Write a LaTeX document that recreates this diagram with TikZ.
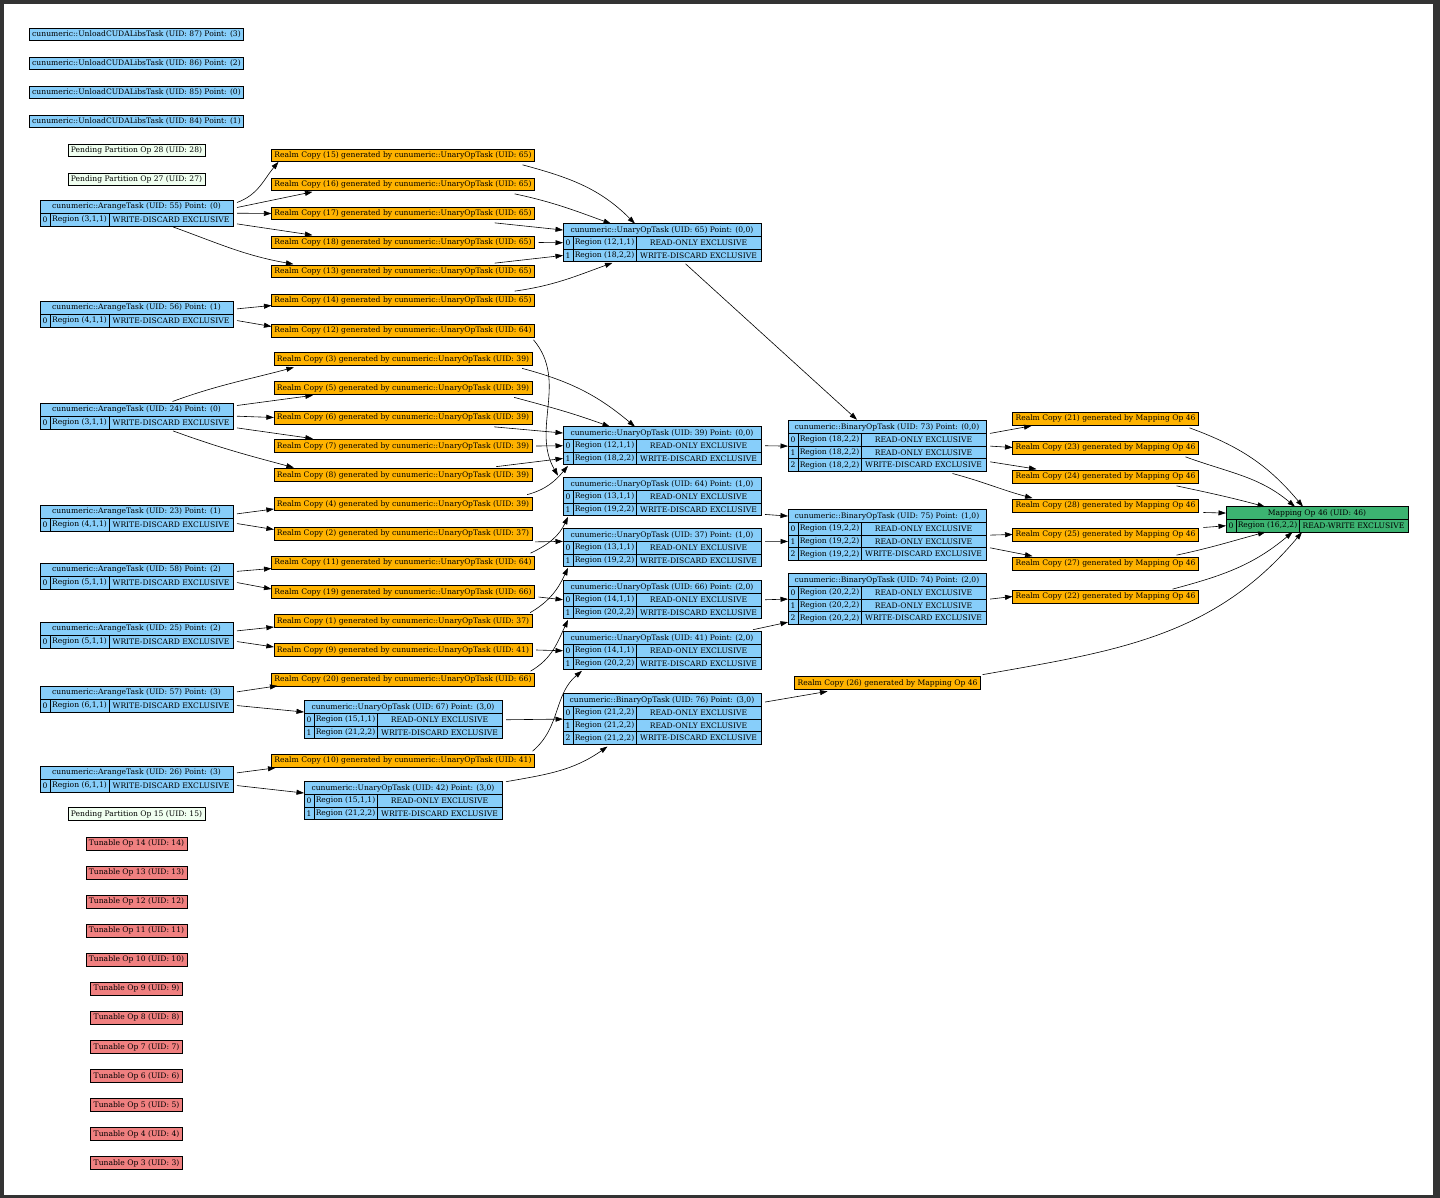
\documentclass[tikz,border=0pt]{standalone}
\usepackage{fontspec}
\setmainfont{DejaVu Serif}
\definecolor{taskblue}{RGB}{135,206,250}
\definecolor{copyorange}{RGB}{255,179,0}
\definecolor{tunered}{RGB}{240,128,128}
\definecolor{mapgreen}{RGB}{60,179,113}
\definecolor{pendfill}{RGB}{240,255,240}
\definecolor{framegray}{RGB}{51,51,51}
\usetikzlibrary{arrows.meta}

\newcommand{\regrow}[8]{%
  \node[#6, minimum width=10pt, anchor=north west] (#1i) at (#2.south west) {#3};
  \node[#6, minimum width=#7, anchor=west] (#1r) at (#1i.east) {#4};
  \node[#6, minimum width=#8, anchor=west] (#1a) at (#1r.east) {#5};}

\begin{document}
\begin{tikzpicture}[x=1pt, y=1pt,
            opbox/.style={draw=black, line width=0.7pt, inner sep=0pt, outer sep=0pt,
                          minimum height=12.7pt, font=\fontsize{7.6}{8.6}\selectfont},
            task/.style={opbox, fill=taskblue},
            taskbox/.style={task, inner xsep=3pt},
            rcopy/.style={opbox, fill=copyorange, inner xsep=3pt},
            tunable/.style={opbox, fill=tunered, inner xsep=3pt},
            pending/.style={opbox, fill=pendfill, inner xsep=3pt},
            mapop/.style={opbox, fill=mapgreen},
            arr/.style={-{Triangle[length=7.5pt,width=5pt]}, line width=0.6pt}
          ]
            \fill[framegray] (0,0) rectangle (1440,-1198);
            \fill[white] (4,-4) rectangle (1433,-1195);
            \useasboundingbox (0,0) rectangle (1440,-1198);

            \node[taskbox] (u87) at (136.5,-34.5) {cunumeric::UnloadCUDALibsTask (UID: 87) Point: (3)};
            \node[taskbox] (u86) at (136.5,-63.5) {cunumeric::UnloadCUDALibsTask (UID: 86) Point: (2)};
            \node[taskbox] (u85) at (136.5,-92.5) {cunumeric::UnloadCUDALibsTask (UID: 85) Point: (0)};
            \node[taskbox] (u84) at (136.5,-121.5) {cunumeric::UnloadCUDALibsTask (UID: 84) Point: (1)};
            \node[pending] (pp28) at (136.5,-150.5) {Pending Partition Op 28 (UID: 28)};
            \node[pending] (pp27) at (136.5,-179.5) {Pending Partition Op 27 (UID: 27)};
            \node[pending] (pp15) at (136.5,-814) {Pending Partition Op 15 (UID: 15)};
            \node[tunable] (tn14) at (136.5,-843.5) {Tunable Op 14 (UID: 14)};
            \node[tunable] (tn13) at (136.5,-872.5) {Tunable Op 13 (UID: 13)};
            \node[tunable] (tn12) at (136.5,-901.5) {Tunable Op 12 (UID: 12)};
            \node[tunable] (tn11) at (136.5,-930.5) {Tunable Op 11 (UID: 11)};
            \node[tunable] (tn10) at (136.5,-959.5) {Tunable Op 10 (UID: 10)};
            \node[tunable] (tn9) at (136.5,-988.5) {Tunable Op 9 (UID: 9)};
            \node[tunable] (tn8) at (136.5,-1017.5) {Tunable Op 8 (UID: 8)};
            \node[tunable] (tn7) at (136.5,-1047) {Tunable Op 7 (UID: 7)};
            \node[tunable] (tn6) at (136.5,-1076) {Tunable Op 6 (UID: 6)};
            \node[tunable] (tn5) at (136.5,-1105) {Tunable Op 5 (UID: 5)};
            \node[tunable] (tn4) at (136.5,-1134) {Tunable Op 4 (UID: 4)};
            \node[tunable] (tn3) at (136.5,-1163) {Tunable Op 3 (UID: 3)};

            \node[task, minimum width=193pt, anchor=north west] (a55) at (40,-200.5) {cunumeric::ArangeTask (UID: 55) Point: (0)};
            \regrow{a55r0}{a55}{0}{Region (3,1,1)}{WRITE-DISCARD EXCLUSIVE}{task}{59pt}{124pt}
            \node[task, minimum width=193pt, anchor=north west] (a56) at (40,-301.5) {cunumeric::ArangeTask (UID: 56) Point: (1)};
            \regrow{a56r0}{a56}{0}{Region (4,1,1)}{WRITE-DISCARD EXCLUSIVE}{task}{59pt}{124pt}
            \node[task, minimum width=193pt, anchor=north west] (a24) at (40,-403.5) {cunumeric::ArangeTask (UID: 24) Point: (0)};
            \regrow{a24r0}{a24}{0}{Region (3,1,1)}{WRITE-DISCARD EXCLUSIVE}{task}{59pt}{124pt}
            \node[task, minimum width=193pt, anchor=north west] (a23) at (40,-505.5) {cunumeric::ArangeTask (UID: 23) Point: (1)};
            \regrow{a23r0}{a23}{0}{Region (4,1,1)}{WRITE-DISCARD EXCLUSIVE}{task}{59pt}{124pt}
            \node[task, minimum width=193pt, anchor=north west] (a58) at (40,-563.5) {cunumeric::ArangeTask (UID: 58) Point: (2)};
            \regrow{a58r0}{a58}{0}{Region (5,1,1)}{WRITE-DISCARD EXCLUSIVE}{task}{59pt}{124pt}
            \node[task, minimum width=193pt, anchor=north west] (a25) at (40,-622.5) {cunumeric::ArangeTask (UID: 25) Point: (2)};
            \regrow{a25r0}{a25}{0}{Region (5,1,1)}{WRITE-DISCARD EXCLUSIVE}{task}{59pt}{124pt}
            \node[task, minimum width=193pt, anchor=north west] (a57) at (40,-686.5) {cunumeric::ArangeTask (UID: 57) Point: (3)};
            \regrow{a57r0}{a57}{0}{Region (6,1,1)}{WRITE-DISCARD EXCLUSIVE}{task}{59pt}{124pt}
            \node[task, minimum width=193pt, anchor=north west] (a26) at (40,-766.5) {cunumeric::ArangeTask (UID: 26) Point: (3)};
            \regrow{a26r0}{a26}{0}{Region (6,1,1)}{WRITE-DISCARD EXCLUSIVE}{task}{59pt}{124pt}

            \node[rcopy] (rc15) at (403,-155.5) {Realm Copy (15) generated by cunumeric::UnaryOpTask (UID: 65)};
            \node[rcopy] (rc16) at (403,-184.5) {Realm Copy (16) generated by cunumeric::UnaryOpTask (UID: 65)};
            \node[rcopy] (rc17) at (403,-213.5) {Realm Copy (17) generated by cunumeric::UnaryOpTask (UID: 65)};
            \node[rcopy] (rc18) at (403,-242.5) {Realm Copy (18) generated by cunumeric::UnaryOpTask (UID: 65)};
            \node[rcopy] (rc13) at (403,-271.5) {Realm Copy (13) generated by cunumeric::UnaryOpTask (UID: 65)};
            \node[rcopy] (rc14) at (403,-300.5) {Realm Copy (14) generated by cunumeric::UnaryOpTask (UID: 65)};
            \node[rcopy] (rc12) at (403,-330.5) {Realm Copy (12) generated by cunumeric::UnaryOpTask (UID: 64)};
            \node[rcopy] (rc3) at (403,-359) {Realm Copy (3) generated by cunumeric::UnaryOpTask (UID: 39)};
            \node[rcopy] (rc5) at (403,-388) {Realm Copy (5) generated by cunumeric::UnaryOpTask (UID: 39)};
            \node[rcopy] (rc6) at (403,-417.5) {Realm Copy (6) generated by cunumeric::UnaryOpTask (UID: 39)};
            \node[rcopy] (rc7) at (403,-446) {Realm Copy (7) generated by cunumeric::UnaryOpTask (UID: 39)};
            \node[rcopy] (rc8) at (403,-475) {Realm Copy (8) generated by cunumeric::UnaryOpTask (UID: 39)};
            \node[rcopy] (rc4) at (403,-504) {Realm Copy (4) generated by cunumeric::UnaryOpTask (UID: 39)};
            \node[rcopy] (rc2) at (403,-533.5) {Realm Copy (2) generated by cunumeric::UnaryOpTask (UID: 37)};
            \node[rcopy] (rc11) at (403,-562.5) {Realm Copy (11) generated by cunumeric::UnaryOpTask (UID: 64)};
            \node[rcopy] (rc19) at (403,-592) {Realm Copy (19) generated by cunumeric::UnaryOpTask (UID: 66)};
            \node[rcopy] (rc1) at (403,-621) {Realm Copy (1) generated by cunumeric::UnaryOpTask (UID: 37)};
            \node[rcopy] (rc9) at (403,-650) {Realm Copy (9) generated by cunumeric::UnaryOpTask (UID: 41)};
            \node[rcopy] (rc20) at (403,-679.5) {Realm Copy (20) generated by cunumeric::UnaryOpTask (UID: 66)};
            \node[rcopy] (rc10) at (403,-760.5) {Realm Copy (10) generated by cunumeric::UnaryOpTask (UID: 41)};

            \node[task, minimum width=198pt, anchor=north west] (t65) at (563,-223.7) {cunumeric::UnaryOpTask (UID: 65) Point: (0,0)};
            \regrow{t65r0}{t65}{0}{Region (12,1,1)}{READ-ONLY EXCLUSIVE}{task}{63pt}{125pt}
            \regrow{t65r1}{t65r0i}{1}{Region (18,2,2)}{WRITE-DISCARD EXCLUSIVE}{task}{63pt}{125pt}
            \node[task, minimum width=198pt, anchor=north west] (t39) at (563,-426.7) {cunumeric::UnaryOpTask (UID: 39) Point: (0,0)};
            \regrow{t39r0}{t39}{0}{Region (12,1,1)}{READ-ONLY EXCLUSIVE}{task}{63pt}{125pt}
            \regrow{t39r1}{t39r0i}{1}{Region (18,2,2)}{WRITE-DISCARD EXCLUSIVE}{task}{63pt}{125pt}
            \node[task, minimum width=198pt, anchor=north west] (t64) at (563,-477.7) {cunumeric::UnaryOpTask (UID: 64) Point: (1,0)};
            \regrow{t64r0}{t64}{0}{Region (13,1,1)}{READ-ONLY EXCLUSIVE}{task}{63pt}{125pt}
            \regrow{t64r1}{t64r0i}{1}{Region (19,2,2)}{WRITE-DISCARD EXCLUSIVE}{task}{63pt}{125pt}
            \node[task, minimum width=198pt, anchor=north west] (t37) at (563,-528.7) {cunumeric::UnaryOpTask (UID: 37) Point: (1,0)};
            \regrow{t37r0}{t37}{0}{Region (13,1,1)}{READ-ONLY EXCLUSIVE}{task}{63pt}{125pt}
            \regrow{t37r1}{t37r0i}{1}{Region (19,2,2)}{WRITE-DISCARD EXCLUSIVE}{task}{63pt}{125pt}
            \node[task, minimum width=198pt, anchor=north west] (t66) at (563,-580.7) {cunumeric::UnaryOpTask (UID: 66) Point: (2,0)};
            \regrow{t66r0}{t66}{0}{Region (14,1,1)}{READ-ONLY EXCLUSIVE}{task}{63pt}{125pt}
            \regrow{t66r1}{t66r0i}{1}{Region (20,2,2)}{WRITE-DISCARD EXCLUSIVE}{task}{63pt}{125pt}
            \node[task, minimum width=198pt, anchor=north west] (t41) at (563,-631.7) {cunumeric::UnaryOpTask (UID: 41) Point: (2,0)};
            \regrow{t41r0}{t41}{0}{Region (14,1,1)}{READ-ONLY EXCLUSIVE}{task}{63pt}{125pt}
            \regrow{t41r1}{t41r0i}{1}{Region (20,2,2)}{WRITE-DISCARD EXCLUSIVE}{task}{63pt}{125pt}
            \node[task, minimum width=198pt, anchor=north west] (t67) at (304,-700.7) {cunumeric::UnaryOpTask (UID: 67) Point: (3,0)};
            \regrow{t67r0}{t67}{0}{Region (15,1,1)}{READ-ONLY EXCLUSIVE}{task}{63pt}{125pt}
            \regrow{t67r1}{t67r0i}{1}{Region (21,2,2)}{WRITE-DISCARD EXCLUSIVE}{task}{63pt}{125pt}
            \node[task, minimum width=198pt, anchor=north west] (t42) at (304,-781.7) {cunumeric::UnaryOpTask (UID: 42) Point: (3,0)};
            \regrow{t42r0}{t42}{0}{Region (15,1,1)}{READ-ONLY EXCLUSIVE}{task}{63pt}{125pt}
            \regrow{t42r1}{t42r0i}{1}{Region (21,2,2)}{WRITE-DISCARD EXCLUSIVE}{task}{63pt}{125pt}

            \node[task, minimum width=198pt, anchor=north west] (b73) at (788,-420.7) {cunumeric::BinaryOpTask (UID: 73) Point: (0,0)};
            \regrow{b73r0}{b73}{0}{Region (18,2,2)}{READ-ONLY EXCLUSIVE}{task}{63pt}{125pt}
            \regrow{b73r1}{b73r0i}{1}{Region (18,2,2)}{READ-ONLY EXCLUSIVE}{task}{63pt}{125pt}
            \regrow{b73r2}{b73r1i}{2}{Region (18,2,2)}{WRITE-DISCARD EXCLUSIVE}{task}{63pt}{125pt}
            \node[task, minimum width=198pt, anchor=north west] (b75) at (788,-509.7) {cunumeric::BinaryOpTask (UID: 75) Point: (1,0)};
            \regrow{b75r0}{b75}{0}{Region (19,2,2)}{READ-ONLY EXCLUSIVE}{task}{63pt}{125pt}
            \regrow{b75r1}{b75r0i}{1}{Region (19,2,2)}{READ-ONLY EXCLUSIVE}{task}{63pt}{125pt}
            \regrow{b75r2}{b75r1i}{2}{Region (19,2,2)}{WRITE-DISCARD EXCLUSIVE}{task}{63pt}{125pt}
            \node[task, minimum width=198pt, anchor=north west] (b74) at (788,-573.7) {cunumeric::BinaryOpTask (UID: 74) Point: (2,0)};
            \regrow{b74r0}{b74}{0}{Region (20,2,2)}{READ-ONLY EXCLUSIVE}{task}{63pt}{125pt}
            \regrow{b74r1}{b74r0i}{1}{Region (20,2,2)}{READ-ONLY EXCLUSIVE}{task}{63pt}{125pt}
            \regrow{b74r2}{b74r1i}{2}{Region (20,2,2)}{WRITE-DISCARD EXCLUSIVE}{task}{63pt}{125pt}
            \node[task, minimum width=198pt, anchor=north west] (b76) at (563,-693.7) {cunumeric::BinaryOpTask (UID: 76) Point: (3,0)};
            \regrow{b76r0}{b76}{0}{Region (21,2,2)}{READ-ONLY EXCLUSIVE}{task}{63pt}{125pt}
            \regrow{b76r1}{b76r0i}{1}{Region (21,2,2)}{READ-ONLY EXCLUSIVE}{task}{63pt}{125pt}
            \regrow{b76r2}{b76r1i}{2}{Region (21,2,2)}{WRITE-DISCARD EXCLUSIVE}{task}{63pt}{125pt}

            \node[rcopy] (rc21) at (1105.5,-418.5) {Realm Copy (21) generated by Mapping Op 46};
            \node[rcopy] (rc23) at (1105.5,-447.5) {Realm Copy (23) generated by Mapping Op 46};
            \node[rcopy] (rc24) at (1105.5,-476.5) {Realm Copy (24) generated by Mapping Op 46};
            \node[rcopy] (rc28) at (1105.5,-505.5) {Realm Copy (28) generated by Mapping Op 46};
            \node[rcopy] (rc25) at (1105.5,-534.5) {Realm Copy (25) generated by Mapping Op 46};
            \node[rcopy] (rc27) at (1105.5,-563.5) {Realm Copy (27) generated by Mapping Op 46};
            \node[rcopy] (rc22) at (1105.5,-596.5) {Realm Copy (22) generated by Mapping Op 46};
            \node[rcopy] (rc26) at (887.5,-683) {Realm Copy (26) generated by Mapping Op 46};

            \node[mapop, minimum width=182pt, anchor=north west] (m46) at (1226,-506.7) {Mapping Op 46 (UID: 46)};
            \regrow{m46r0}{m46}{0}{Region (16,2,2)}{READ-WRITE EXCLUSIVE}{mapop}{63pt}{109pt}

            \draw[arr] ([xshift=4pt,yshift=-2pt]a55.north east) to[out=20,in=-130] ([xshift=7pt]rc15.south west);
            \draw[arr] ([xshift=4pt,yshift=-7pt]a55.north east) -- ([xshift=41pt,yshift=-1pt]rc16.south west);
            \draw[arr] ([xshift=4pt]a55.south east) -- (rc17.west);
            \draw[arr] ([xshift=4pt,yshift=2pt]a55r0a.south east) -- ([xshift=41pt,yshift=1pt]rc18.north west);
            \draw[arr] ([xshift=2pt,yshift=-1pt]a55r0a.south) to[out=-20,in=170] ([xshift=22pt,yshift=1pt]rc13.north west);
            \draw[arr] ([xshift=4pt,yshift=-1pt]a56.east) -- ([yshift=-5pt]rc14.west);
            \draw[arr] ([xshift=4pt]a56r0a.east) -- ([yshift=4pt]rc12.west);

            \draw[arr] ([xshift=-12pt,yshift=-3pt]rc15.south east) to[out=-15,in=135] ([xshift=-27pt]t65.north);
            \draw[arr] ([xshift=-20pt,yshift=-3pt]rc16.south east) to[out=-12,in=160] ([xshift=-51pt]t65.north);
            \draw[arr] ([xshift=-40pt,yshift=-3pt]rc17.south east) -- (t65.west);
            \draw[arr] ([xshift=4pt]rc18.east) -- (t65r0i.west);
            \draw[arr] ([xshift=-40pt,yshift=2pt]rc13.north east) -- (t65r1i.west);
            \draw[arr] ([xshift=-20pt,yshift=3pt]rc14.north east) to[out=8,in=-160] ([xshift=8pt,yshift=-1pt]t65r1r.south);
            \draw[arr] ([xshift=-1pt,yshift=-3pt]rc12.south east) to[out=-50,in=120] ([xshift=-5pt,yshift=2pt]t64.north west);

            \draw[arr] ([xshift=36pt,yshift=2pt]a24.north) to[out=20,in=-165] ([xshift=20pt,yshift=-2pt]rc3.south west);
            \draw[arr] ([xshift=4pt,yshift=-2pt]a24.north east) -- ([xshift=39pt,yshift=-1pt]rc5.south west);
            \draw[arr] ([xshift=4pt]a24.south east) -- (rc6.west);
            \draw[arr] ([xshift=4pt,yshift=1pt]a24r0a.south east) -- ([xshift=39pt,yshift=1pt]rc7.north west);
            \draw[arr] ([xshift=2pt,yshift=-2pt]a24r0a.south) to[out=-20,in=165] ([xshift=20pt,yshift=1pt]rc8.north west);

            \draw[arr] ([xshift=-10pt,yshift=-3pt]rc3.south east) to[out=-15,in=140] ([xshift=-27pt]t39.north);
            \draw[arr] ([xshift=-18pt,yshift=-3pt]rc5.south east) to[out=-15,in=160] ([xshift=-52pt]t39.north);
            \draw[arr] ([xshift=-38pt,yshift=-3pt]rc6.south east) -- (t39.west);
            \draw[arr] ([xshift=4pt]rc7.east) -- (t39r0i.west);
            \draw[arr] ([xshift=-36pt,yshift=2pt]rc8.north east) -- (t39r1i.west);
            \draw[arr] ([xshift=-5pt,yshift=3pt]rc4.north east) to[out=15,in=-130] ([yshift=-1pt]t39r1i.south);

            \draw[arr] ([xshift=4pt,yshift=-2pt]a23.east) -- ([yshift=-5pt]rc4.west);
            \draw[arr] ([xshift=4pt,yshift=1pt]a23r0a.east) -- ([yshift=4pt]rc2.west);
            \draw[arr] ([xshift=3pt,yshift=-2pt]rc2.south east) -- (t37.south west);
            \draw[arr] ([xshift=-4pt,yshift=3pt]rc11.north east) to[out=25,in=-115] ([yshift=-1pt]t64r1i.south);

            \draw[arr] ([xshift=4pt,yshift=-1.5pt]a58.east) -- ([yshift=-6pt]rc11.west);
            \draw[arr] ([xshift=4pt]a58r0a.east) -- ([yshift=3pt]rc19.west);
            \draw[arr] ([xshift=4pt,yshift=-5pt]rc19.east) -- (t66r0i.west);

            \draw[arr] ([xshift=4pt,yshift=-2pt]a25.east) -- ([yshift=-6pt]rc1.west);
            \draw[arr] ([xshift=4pt]a25r0a.east) -- ([yshift=3pt]rc9.west);
            \draw[arr] ([xshift=-2pt,yshift=2pt]rc1.north east) to[out=30,in=-115] ([yshift=-1pt]t37r1i.south);
            \draw[arr] ([xshift=4pt]rc9.east) -- (t41r0i.west);
            \draw[arr] ([xshift=-4pt,yshift=2pt]rc20.north east) to[out=30,in=-115] ([yshift=-1pt]t66r1i.south);

            \draw[arr] ([xshift=4pt,yshift=1pt]a57.east) -- ([xshift=6pt]rc20.south west);
            \draw[arr] ([xshift=4pt]a57r0a.east) -- ([yshift=-5pt]t67.west);
            \draw[arr] ([xshift=4pt]t67r0a.east) -- (b76r0i.south west);
            \draw[arr] ([xshift=4pt]a26.east) -- ([xshift=4pt,yshift=-1pt]rc10.south west);
            \draw[arr] ([xshift=4pt]a26r0a.east) -- ([yshift=-5pt]t42.west);
            \draw[arr] ([xshift=-2pt,yshift=3pt]rc10.north east) to[out=40,in=-140] ([xshift=9pt,yshift=-1pt]t41r1r.south west);
            \draw[arr] ([xshift=4pt]t42.north east) to[out=10,in=-145] ([xshift=3pt,yshift=-2pt]b76r2r.south);

            \draw[arr] ([xshift=-13pt,yshift=-2pt]t65r1a.south) -- ([xshift=-30pt,yshift=1pt]b73.north);
            \draw[arr] ([xshift=4pt]t39r0a.east) -- (b73r0i.south west);
            \draw[arr] ([xshift=4pt,yshift=-5pt]t64r1a.east) -- (b75.west);
            \draw[arr] ([xshift=4pt]t37.south east) -- (b75r1i.west);
            \draw[arr] ([xshift=4pt]t66r0a.east) -- (b74r0i.south west);
            \draw[arr] ([xshift=-8pt,yshift=2pt]t41.north east) -- ([yshift=-4pt]b74r2i.west);

            \draw[arr] ([xshift=4pt]b73.south east) -- ([xshift=19pt,yshift=-1pt]rc21.south west);
            \draw[arr] ([xshift=4pt]b73r0a.south east) -- (rc23.west);
            \draw[arr] ([xshift=4pt,yshift=-3pt]b73r1a.south east) -- ([xshift=24pt,yshift=1pt]rc24.north west);
            \draw[arr] ([xshift=29pt,yshift=-2pt]b73r2a.south) to[out=-15,in=165] ([xshift=20pt,yshift=1pt]rc28.north west);
            \draw[arr] ([xshift=4pt]b75r0a.south east) -- (rc25.west);
            \draw[arr] ([xshift=4pt]b75r1a.south east) -- ([xshift=20pt,yshift=1pt]rc27.north west);
            \draw[arr] ([xshift=4pt]b74r0a.south east) -- (rc22.west);
            \draw[arr] ([xshift=4pt,yshift=-2pt]b76.east) -- ([xshift=33pt,yshift=-2pt]rc26.south west);

            \draw[arr] ([xshift=-9pt,yshift=-3pt]rc21.south east) to[out=-20,in=130] ([xshift=-14pt]m46.north);
            \draw[arr] ([xshift=-13pt,yshift=-3pt]rc23.south east) to[out=-20,in=140] ([xshift=-22pt]m46.north);
            \draw[arr] ([xshift=-22pt,yshift=-3pt]rc24.south east) to[out=-12,in=165] ([xshift=-52pt]m46.north);
            \draw[arr] ([xshift=5pt,yshift=-7pt]rc28.east) -- (m46.west);
            \draw[arr] ([xshift=5pt,yshift=7pt]rc25.east) -- (m46r0i.west);
            \draw[arr] ([xshift=-22pt,yshift=2pt]rc27.north east) to[out=12,in=-165] ([xshift=-2pt]m46r0r.south);
            \draw[arr] ([xshift=-26pt,yshift=1pt]rc22.north east) to[out=15,in=-140] ([xshift=25pt]m46r0r.south);
            \draw[arr] ([xshift=2pt,yshift=2pt]rc26.north east) to[out=10,in=-130] ([xshift=3pt]m46r0r.south east);
          \end{tikzpicture}
\end{document}
